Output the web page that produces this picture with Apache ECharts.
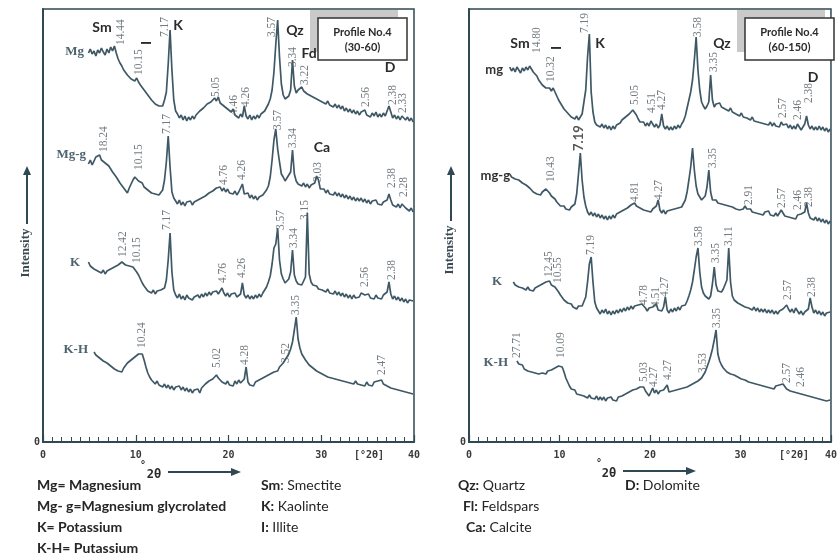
<!DOCTYPE html>
<html>
<head>
<meta charset="utf-8">
<script src="https://cdn.jsdelivr.net/npm/echarts@6/dist/echarts.min.js"></script>
<style>
  html, body { margin: 0; padding: 0; background: #fff; }
  #chart { width: 840px; height: 559px; }
</style>
</head>
<body>
<div id="chart"></div>
<script>
// sampling grid of every trace (degrees 2theta)
const theta0 = 4.5
const thetaStep = 0.2
const xTickLabels = ['0', '10', '20', '30', '40']

// Profile No.4 (30-60) - intensities
const mgLeft = [
  null, null, 389, 393, 388, 391, 386, 392, 389, 394,
  390, 387, 393, 389, 395, 391, 396, 389, 383, 379,
  376, 372, 373, 367, 369, 363, 365, 361, 364, 360,
  357, 355, 352, 350, 347, 346, 342, 343, 338, 340,
  336, 338, 336, 342, 350, 378, 412, 372, 342, 331,
  328, 324, 327, 322, 326, 321, 325, 322, 326, 323,
  327, 326, 331, 329, 334, 333, 338, 336, 340, 339,
  344, 341, 345, 339, 340, 336, 337, 333, 335, 330,
  333, 327, 329, 324, 328, 325, 336, 326, 323, 327,
  322, 326, 323, 327, 324, 328, 326, 331, 333, 338,
  343, 352, 370, 398, 422, 385, 358, 347, 343, 341,
  346, 352, 382, 356, 349, 352, 350, 355, 351, 353,
  348, 350, 346, 348, 344, 346, 342, 344, 340, 342,
  338, 341, 337, 339, 335, 338, 334, 337, 333, 336,
  331, 334, 330, 333, 329, 332, 328, 331, 327, 330,
  328, 332, 327, 329, 325, 329, 326, 330, 325, 328,
  325, 329, 326, 328, 336, 330, 324, 327, 323, 326,
  322, 326, 328, 322, 325, 321, 324, 320
]
const mggLeft = [
  null, null, 278, 282, 277, 281, 285, 283, 287, 282,
  284, 279, 280, 276, 274, 270, 268, 265, 263, 259,
  257, 254, 252, 249, 254, 258, 262, 265, 263, 261,
  259, 259, 255, 256, 252, 253, 249, 251, 248, 250,
  247, 249, 252, 262, 280, 306, 275, 250, 244, 241,
  238, 242, 237, 240, 236, 240, 238, 241, 237, 240,
  239, 242, 240, 244, 242, 246, 245, 249, 248, 251,
  250, 254, 252, 255, 251, 254, 250, 253, 249, 251,
  248, 251, 247, 250, 249, 258, 248, 246, 249, 244,
  247, 243, 246, 242, 245, 243, 247, 246, 252, 256,
  265, 282, 302, 313, 293, 280, 268, 265, 261, 264,
  262, 270, 292, 268, 261, 258, 260, 256, 259, 255,
  258, 254, 257, 255, 259, 266, 262, 253, 251, 253,
  249, 252, 248, 250, 247, 250, 246, 249, 245, 248,
  244, 247, 243, 246, 242, 245, 241, 244, 241, 244,
  240, 243, 239, 242, 238, 241, 239, 242, 238, 240,
  237, 240, 238, 242, 248, 242, 237, 239, 235, 238,
  234, 238, 240, 234, 236, 231, 234, 230
]
const kLeft = [
  null, null, 180, 176, 178, 173, 175, 171, 173, 169,
  172, 168, 171, 169, 173, 171, 175, 174, 177, 176,
  180, 181, 177, 179, 176, 178, 175, 174, 170, 167,
  163, 159, 156, 154, 151, 153, 149, 152, 148, 151,
  149, 152, 150, 154, 162, 182, 209, 170, 152, 147,
  144, 148, 143, 146, 142, 147, 144, 146, 142, 145,
  143, 147, 144, 148, 145, 149, 146, 150, 147, 150,
  148, 151, 148, 150, 154, 149, 146, 149, 145, 148,
  146, 149, 145, 147, 148, 159, 147, 144, 147, 143,
  146, 143, 147, 144, 148, 145, 149, 150, 155, 160,
  166, 178, 194, 198, 214, 182, 168, 163, 159, 161,
  163, 170, 192, 167, 161, 158, 160, 157, 159, 165,
  229, 168, 160, 157, 155, 156, 153, 155, 152, 154,
  150, 153, 149, 151, 148, 151, 147, 150, 146, 149,
  145, 148, 144, 147, 143, 147, 144, 146, 145, 149,
  151, 147, 145, 148, 144, 146, 143, 147, 144, 146,
  143, 147, 145, 150, 160, 148, 143, 146, 142, 145,
  141, 144, 140, 143, 139, 142, 140, 141
]
const khLeft = [
  null, null, null, null, null, 90, 87, 88, 84, 85,
  81, 83, 79, 80, 76, 78, 73, 75, 71, 73,
  70, 74, 76, 79, 78, 82, 81, 85, 84, 88,
  90, 88, 82, 75, 69, 65, 62, 60, 58, 61,
  57, 59, 55, 58, 54, 57, 53, 56, 52, 55,
  53, 56, 52, 55, 51, 54, 50, 53, 49, 52,
  50, 53, 49, 54, 55, 58, 57, 61, 60, 63,
  64, 67, 64, 62, 60, 62, 58, 61, 57, 59,
  56, 61, 58, 62, 59, 60, 63, 75, 60, 57,
  59, 56, 60, 58, 62, 60, 64, 62, 66, 64,
  68, 66, 70, 72, 71, 75, 74, 79, 80, 85,
  88, 93, 100, 112, 125, 103, 94, 88, 85, 82,
  80, 77, 78, 74, 75, 71, 72, 69, 70, 67,
  68, 65, 67, 64, 66, 63, 65, 62, 64, 61,
  63, 60, 62, 59, 61, 58, 61, 58, 60, 57,
  59, 56, 60, 57, 59, 56, 60, 58, 61, 59,
  62, 58, 60, 56, 58, 54, 56, 53, 55, 52,
  54, 51, 53, 50, 52, 49, 51, 48
]

// Profile No.4 (60-150)
const mgRight = [
  375, 371, 374, 370, 375, 372, 369, 374, 371, 375,
  372, 376, 373, 370, 372, 366, 362, 360, 357, 356,
  354, 352, 354, 351, 354, 350, 346, 342, 339, 336,
  333, 331, 329, 327, 325, 327, 323, 326, 322, 325,
  328, 340, 352, 385, 408, 350, 330, 320, 317, 319,
  315, 318, 314, 317, 313, 316, 312, 316, 313, 317,
  315, 319, 322, 320, 325, 324, 328, 327, 332, 330,
  327, 323, 320, 318, 320, 316, 319, 316, 321, 318,
  315, 318, 314, 317, 328, 316, 313, 316, 312, 315,
  312, 316, 313, 317, 314, 318, 321, 326, 334, 342,
  350, 362, 382, 405, 372, 352, 340, 336, 333, 336,
  340, 367, 342, 335, 338, 336, 339, 335, 337, 333,
  335, 331, 334, 330, 332, 328, 330, 326, 329, 325,
  327, 324, 326, 322, 325, 321, 323, 320, 322, 319,
  321, 318, 320, 317, 320, 316, 319, 316, 318, 315,
  320, 317, 315, 318, 314, 317, 313, 316, 313, 318,
  315, 312, 315, 318, 326, 317, 313, 316, 312, 315,
  312, 316, 312, 315, 311, 314, 310, 313
]
const mggRight = [
  268, 265, 267, 263, 265, 262, 263, 259, 260, 257,
  256, 254, 253, 250, 251, 248, 249, 247, 250, 252,
  253, 251, 249, 246, 244, 243, 240, 238, 236, 234,
  236, 233, 235, 232, 235, 234, 238, 248, 268, 289,
  262, 245, 236, 230, 227, 230, 226, 229, 225, 228,
  224, 227, 223, 226, 222, 226, 223, 227, 224, 228,
  226, 230, 228, 232, 230, 234, 233, 237, 236, 239,
  236, 238, 234, 236, 232, 234, 231, 233, 230, 233,
  231, 236, 242, 232, 229, 232, 228, 231, 229, 232,
  230, 233, 231, 234, 232, 235, 236, 242, 250, 262,
  275, 294, 272, 256, 248, 245, 242, 244, 246, 255,
  272, 250, 242, 240, 242, 239, 241, 238, 240, 237,
  239, 236, 238, 235, 236, 233, 235, 232, 234, 233,
  236, 233, 231, 233, 230, 232, 229, 231, 228, 230,
  227, 230, 228, 231, 227, 229, 226, 229, 226, 228,
  232, 229, 226, 228, 225, 227, 224, 226, 223, 227,
  225, 228, 226, 230, 239, 229, 224, 226, 222, 225,
  221, 224, 220, 223, 219, 222, 218, 221
]
const kRight = [
  null, null, 160, 157, 159, 155, 157, 154, 156, 152,
  155, 152, 154, 151, 154, 153, 156, 155, 158, 157,
  160, 158, 161, 157, 158, 155, 154, 150, 147, 145,
  142, 141, 139, 137, 138, 135, 136, 133, 136, 134,
  136, 138, 145, 160, 178, 185, 160, 140, 134, 131,
  128, 132, 129, 133, 128, 131, 127, 131, 128, 132,
  129, 133, 130, 134, 131, 135, 132, 136, 133, 136,
  134, 137, 135, 138, 136, 134, 131, 134, 132, 135,
  133, 138, 132, 134, 131, 135, 145, 132, 129, 133,
  130, 134, 131, 135, 132, 136, 134, 137, 141, 146,
  152, 160, 172, 185, 194, 170, 155, 149, 146, 144,
  143, 146, 158, 175, 157, 151, 152, 150, 153, 154,
  162, 194, 160, 146, 142, 141, 139, 140, 137, 139,
  135, 137, 134, 136, 132, 135, 131, 134, 130, 133,
  130, 133, 129, 132, 129, 132, 128, 131, 128, 131,
  129, 133, 135, 137, 133, 130, 133, 129, 134, 131,
  128, 131, 127, 130, 128, 133, 144, 135, 129, 132,
  128, 131, 127, 130, 126, 129, 127, 130
]
const khRight = [
  null, null, null, null, 81, 78, 76, 77, 73, 74,
  71, 73, 70, 72, 69, 71, 68, 70, 69, 71,
  68, 71, 70, 72, 71, 74, 73, 76, 78, 75,
  70, 64, 60, 56, 53, 51, 52, 48, 50, 47,
  49, 46, 48, 44, 47, 44, 46, 43, 46, 42,
  45, 42, 45, 41, 44, 42, 45, 42, 44, 41,
  45, 43, 46, 44, 48, 46, 50, 49, 52, 51,
  53, 52, 55, 53, 55, 51, 49, 46, 50, 54,
  49, 52, 48, 51, 49, 52, 50, 57, 50, 48,
  51, 49, 52, 50, 53, 51, 54, 52, 55, 54,
  57, 56, 59, 58, 61, 62, 64, 66, 70, 75,
  80, 86, 93, 102, 112, 88, 81, 77, 74, 72,
  70, 72, 68, 70, 67, 68, 65, 67, 63, 65,
  62, 64, 60, 62, 59, 61, 58, 60, 57, 59,
  56, 58, 55, 57, 54, 56, 53, 56, 54, 57,
  55, 58, 56, 53, 55, 51, 53, 50, 52, 49,
  51, 48, 50, 47, 49, 46, 48, 45, 47, 44,
  46, 43, 45, 42, 44, 41, 43, 42
]

// d-spacing annotations: [2theta, intensity at text foot, label, bold]
const mgPeaksLeft = [[8.45, 397, '14.44'], [10.3, 367, '10.15'], [13.1, 405, '7.17'], [18.7, 345, '5.05'], [20.6, 327, '4.46'], [21.9, 335, '4.26'], [24.7, 405, '3.57'], [27.0, 375, '3.34'], [28.2, 357, '3.22'], [34.8, 335, '2.56'], [37.7, 337, '2.38'], [38.85, 329, '2.33']]
const mggPeaksLeft = [[6.6, 290, '18.24'], [10.4, 272, '10.15'], [13.4, 308, '7.17'], [19.55, 257, '4.76'], [21.5, 262, '4.26'], [25.3, 312, '3.57'], [26.9, 294, '3.34'], [29.7, 260, '3.03'], [37.6, 254, '2.38'], [38.9, 245, '2.28']]
const kPeaksLeft = [[8.67, 185, '12.42'], [10.1, 179, '10.15'], [13.4, 212, '7.17'], [19.45, 159, '4.76'], [21.5, 164, '4.26'], [25.65, 212, '3.57'], [27.1, 194, '3.34'], [28.2, 222, '3.15'], [34.75, 155, '2.56'], [37.65, 162, '2.38']]
const khPeaksLeft = [[10.7, 94, '10.24'], [18.8, 74, '5.02'], [21.8, 77, '4.28'], [26.2, 79, '3.52'], [27.3, 127, '3.35'], [36.5, 67, '2.47']]
const mgPeaksRight = [[7.5, 389, '14.80'], [9.1, 360, '10.32'], [12.8, 409, '7.19'], [18.3, 337, '5.05'], [20.2, 329, '4.51'], [21.3, 332, '4.27'], [25.3, 405, '3.58'], [27.05, 370, '3.35'], [34.7, 324, '2.57'], [36.4, 322, '2.46'], [37.6, 339, '2.38']]
const mggPeaksRight = [[9.1, 260, '10.43'], [12.1, 291, '7.19', true], [18.3, 240, '4.81'], [21.0, 242, '4.27'], [27.0, 274, '3.35'], [30.9, 237, '2.91'], [34.6, 234, '2.57'], [36.3, 232, '2.46'], [37.6, 235, '2.38']]
const kPeaksRight = [[8.8, 165, '12.45'], [9.8, 159, '10.55'], [13.5, 187, '7.19'], [19.35, 137, '4.78'], [20.65, 135, '4.51'], [21.7, 145, '4.27'], [25.4, 196, '3.58'], [27.3, 179, '3.35'], [28.7, 196, '3.11'], [35.2, 142, '2.57'], [37.9, 145, '2.38']]
const khPeaksRight = [[5.3, 84, '27.71'], [10.2, 84, '10.09'], [19.35, 60, '5.03'], [20.4, 55, '4.27'], [21.95, 62, '4.27'], [25.9, 69, '3.53'], [27.4, 114, '3.35'], [35.1, 59, '2.57'], [36.7, 55, '2.46']]

const TRACE = '#3f5866'
const AXIS = '#2f4853'
const MONO = 'DejaVu Sans Mono'
const SERIF = 'Liberation Serif'
const SANS = 'Lato'

const chart = echarts.init(document.getElementById('chart'))

function trace(values, idx) {
  return {
    type: 'line',
    xAxisIndex: idx,
    yAxisIndex: idx,
    data: values.map((v, i) => [+(theta0 + i * thetaStep).toFixed(1), v]),
    symbol: 'none',
    silent: true,
    lineStyle: { color: TRACE, width: 1.7 }
  }
}

function peakLabels(peaks, idx) {
  return {
    type: 'scatter',
    xAxisIndex: idx,
    yAxisIndex: idx,
    symbolSize: 0,
    silent: true,
    z: 5,
    data: peaks.map(p => {
      const item = { value: [p[0], p[1]], name: p[2] }
      if (p[3]) {
        item.label = { fontFamily: SANS, fontWeight: 'bold', fontSize: 13, color: '#2b2b2b' }
      }
      return item
    }),
    label: {
      show: true,
      formatter: '{b}',
      position: [0, 0],
      rotate: 90,
      align: 'left',
      verticalAlign: 'middle',
      fontFamily: SERIF,
      fontSize: 11.5,
      color: '#505a60'
    }
  }
}

function xAxis(idx) {
  return {
    gridIndex: idx,
    type: 'value',
    min: 0,
    max: 40,
    interval: 10,
    axisLine: { lineStyle: { color: AXIS, width: 2 } },
    axisTick: { inside: true, length: 7, lineStyle: { color: AXIS, width: 1.2 } },
    minorTick: { show: true, splitNumber: 10, length: 5, lineStyle: { color: AXIS, width: 1 } },
    splitLine: { show: false },
    axisLabel: {
      formatter: v => xTickLabels[v / 10],
      fontFamily: MONO,
      fontSize: 10,
      fontWeight: 'bold',
      color: '#3a3a3a',
      margin: 8
    }
  }
}

function yAxis(idx) {
  return {
    gridIndex: idx,
    type: 'value',
    min: 0,
    max: 433,
    interval: 433,
    axisLine: { show: true, lineStyle: { color: AXIS, width: 2 } },
    axisTick: { show: false },
    splitLine: { show: false },
    axisLabel: {
      formatter: v => (v === 0 ? '0' : ''),
      fontFamily: MONO,
      fontSize: 10,
      fontWeight: 'bold',
      color: '#3a3a3a',
      margin: 3
    }
  }
}

function txt(text, x, y, font, opts) {
  return Object.assign({
    type: 'text',
    x: x,
    y: y,
    z: 20,
    silent: true,
    style: Object.assign({ text: text, font: font, fill: '#2b2b2b', textAlign: 'center', textVerticalAlign: 'middle' }, (opts && opts.style) || {})
  }, opts && opts.rotation ? { rotation: opts.rotation } : {})
}

function profileBox(gx, text2) {
  return [
    { type: 'rect', z: 18, silent: true, shape: { x: gx - 8, y: 10, width: 88, height: 42 }, style: { fill: '#cacaca' } },
    { type: 'rect', z: 19, silent: true, shape: { x: gx, y: 18, width: 89, height: 42 }, style: { fill: '#fff', stroke: '#333', lineWidth: 1.5 } },
    txt('Profile No.4', gx + 44.5, 32, 'bold 11px ' + SANS),
    txt(text2, gx + 44.5, 47, 'bold 11px ' + SANS)
  ]
}

function upArrow(x, yTop, yBottom) {
  return [
    { type: 'line', z: 20, silent: true, shape: { x1: x, y1: yBottom, x2: x, y2: yTop + 6 }, style: { stroke: AXIS, lineWidth: 2 } },
    { type: 'polygon', z: 20, silent: true, shape: { points: [[x, yTop], [x - 4, yTop + 9], [x + 4, yTop + 9]] }, style: { fill: AXIS } }
  ]
}

function rightArrow(x1, x2, y) {
  return [
    { type: 'line', z: 20, silent: true, shape: { x1: x1, y1: y, x2: x2 - 6, y2: y }, style: { stroke: AXIS, lineWidth: 2 } },
    { type: 'polygon', z: 20, silent: true, shape: { points: [[x2, y], [x2 - 10, y - 4], [x2 - 10, y + 4]] }, style: { fill: AXIS } }
  ]
}

const mineralFont = 'bold 14px ' + SANS
const nameSerif = 'bold 13px ' + SERIF
const nameSans = 'bold 13px ' + SANS
const legendFont = '14px ' + SANS
const rot = Math.PI / 2

function legendLine(bold, rest, x, y) {
  return {
    type: 'text',
    x: x,
    y: y,
    z: 20,
    silent: true,
    style: {
      text: '{b|' + bold + '}' + rest,
      font: legendFont,
      fill: '#262626',
      textAlign: 'left',
      textVerticalAlign: 'middle',
      rich: { b: { fontWeight: 'bold', fontFamily: SANS, fontSize: 14, fill: '#262626' } }
    }
  }
}

const graphic = [].concat(
  profileBox(318, '(30-60)'),
  profileBox(745, '(60-150)'),
  [
    txt('Sm', 102, 27, mineralFont),
    txt('I', 146, 43, mineralFont, { rotation: rot }),
    txt('K', 178, 25, mineralFont),
    txt('Qz', 295, 30, mineralFont),
    txt('Fd', 309, 53, mineralFont),
    txt('D', 390, 67, mineralFont),
    txt('Ca', 322, 147, mineralFont),
    txt('Sm', 520, 43, mineralFont),
    txt('I', 556, 48, mineralFont, { rotation: rot }),
    txt('K', 600, 43, mineralFont),
    txt('Qz', 722, 43, mineralFont),
    txt('D', 813, 77, mineralFont),

    txt('Mg', 84, 52, nameSerif, { style: { textAlign: 'right', fill: '#4d6470' } }),
    txt('Mg-g', 86, 155, nameSerif, { style: { textAlign: 'right', fill: '#4d6470' } }),
    txt('K', 80, 263, nameSerif, { style: { textAlign: 'right', fill: '#4d6470' } }),
    txt('K-H', 88, 350, nameSerif, { style: { textAlign: 'right', fill: '#4d6470' } }),
    txt('mg', 503, 70, nameSans, { style: { textAlign: 'right', fill: '#333' } }),
    txt('mg-g', 510, 176, nameSans, { style: { textAlign: 'right', fill: '#333' } }),
    txt('K', 502, 282, nameSerif, { style: { textAlign: 'right', fill: '#4d6470' } }),
    txt('K-H', 508, 363, nameSerif, { style: { textAlign: 'right', fill: '#4d6470' } }),

    txt('Intensity', 26, 253, 'bold 13px ' + SERIF, { rotation: rot, style: { fill: '#3a4a52' } }),
    txt('Intensity', 450, 250, 'bold 13px ' + SERIF, { rotation: rot, style: { fill: '#3a4a52' } }),

    txt('°', 143, 465, 'bold 10px ' + MONO),
    txt('2θ', 154, 475, 'bold 12px ' + MONO),
    txt('°', 599, 463, 'bold 10px ' + MONO),
    txt('2θ', 609, 474, 'bold 12px ' + MONO),
    txt('[°2θ]', 369, 455, 'bold 10px ' + MONO, { style: { fill: '#3a3a3a' } }),
    txt('[°2θ]', 794, 455, 'bold 10px ' + MONO, { style: { fill: '#3a3a3a' } }),

    legendLine('Mg= Magnesium', '', 37, 485),
    legendLine('Mg- g=Magnesium glycrolated', '', 37, 506),
    legendLine('K= Potassium', '', 37, 527),
    legendLine('K-H= Putassium', '', 37, 548),
    legendLine('Sm', ': Smectite', 261, 485),
    legendLine('K:', ' Kaolinte', 261, 506),
    legendLine('I:', ' Illite', 261, 527),
    legendLine('Qz:', ' Quartz', 458, 485),
    legendLine('Fl:', ' Feldspars', 463, 506),
    legendLine('Ca:', ' Calcite', 466, 527),
    legendLine('D:', ' Dolomite', 625, 485)
  ],
  upArrow(27, 166, 224),
  upArrow(451, 166, 221),
  rightArrow(168, 241, 472),
  rightArrow(623, 696, 471)
)

chart.setOption({
  animation: false,
  backgroundColor: '#fff',
  grid: [
    { left: 43, top: 9, width: 371, height: 433, show: true, borderColor: AXIS, borderWidth: 1.5 },
    { left: 469, top: 9, width: 367, height: 433, show: true, borderColor: AXIS, borderWidth: 1.5 }
  ],
  xAxis: [xAxis(0), xAxis(1)],
  yAxis: [yAxis(0), yAxis(1)],
  graphic: graphic,
  series: [
    trace(mgLeft, 0),
    trace(mggLeft, 0),
    trace(kLeft, 0),
    trace(khLeft, 0),
    trace(mgRight, 1),
    trace(mggRight, 1),
    trace(kRight, 1),
    trace(khRight, 1),
    peakLabels(mgPeaksLeft, 0),
    peakLabels(mggPeaksLeft, 0),
    peakLabels(kPeaksLeft, 0),
    peakLabels(khPeaksLeft, 0),
    peakLabels(mgPeaksRight, 1),
    peakLabels(mggPeaksRight, 1),
    peakLabels(kPeaksRight, 1),
    peakLabels(khPeaksRight, 1)
  ]
})
</script>
</body>
</html>
